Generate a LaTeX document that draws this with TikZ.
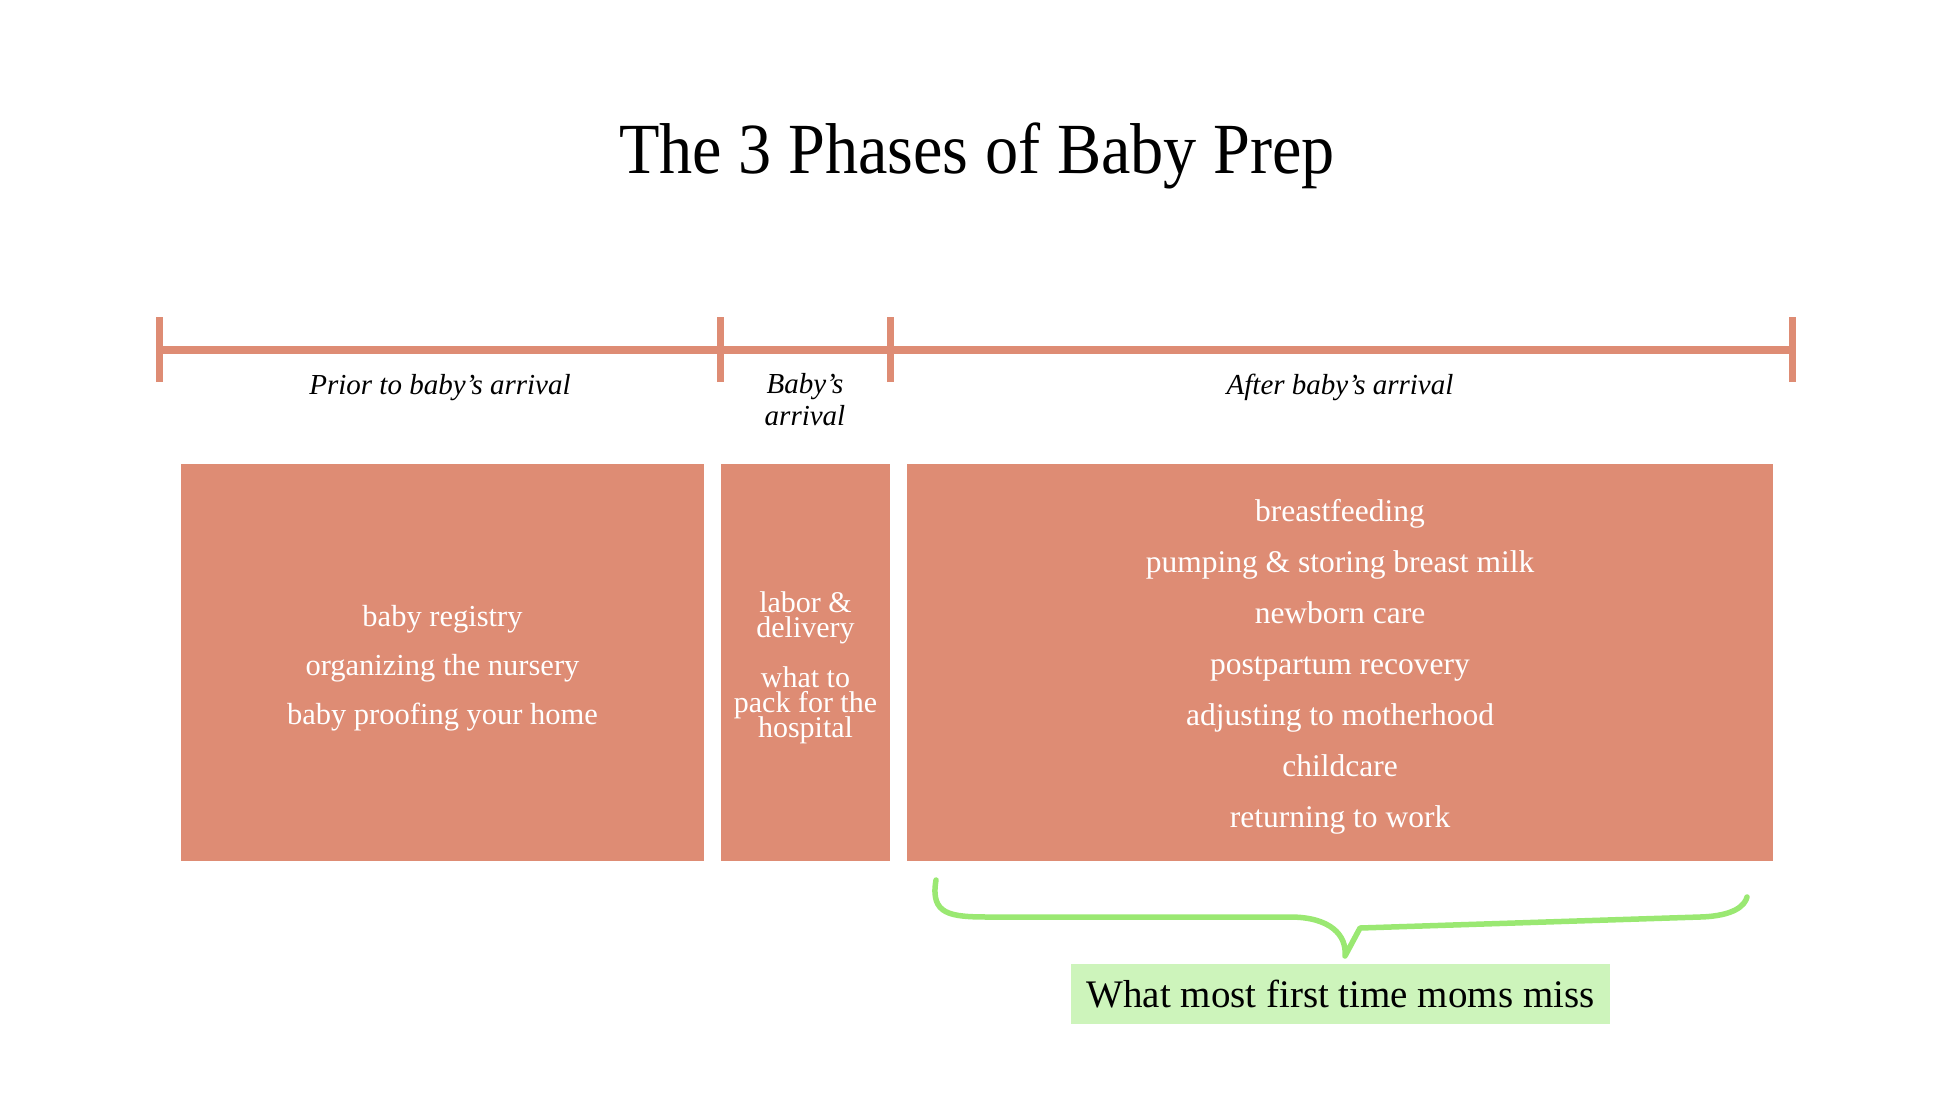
\documentclass[tikz,border=0pt]{standalone}
\usepackage{fontspec}
\newfontfamily\bodyfont{Liberation Serif}
\definecolor{salmon}{HTML}{DE8C74}
\definecolor{bracegreen}{HTML}{9AE872}
\definecolor{labelgreen}{HTML}{CDF4BB}
\tikzset{
  axisline/.style={draw=salmon, line width=7.5pt},
  tickline/.style={draw=salmon, line width=7pt},
  phaselabel/.style={anchor=base, inner sep=0pt, align=center, font=\bodyfont\itshape\fontsize{29}{31}\selectfont},
  phasebox/.style={fill=salmon, inner sep=0pt, minimum height=397pt},
  boxtext/.style={text=white, inner sep=0pt, align=center},
  bracestyle/.style={draw=bracegreen, line width=5.5pt, line cap=round, line join=round},
  missbox/.style={fill=labelgreen, text=black, inner sep=0pt, minimum width=539pt, minimum height=60pt, font=\bodyfont\fontsize{39}{41}\selectfont}
}
\lineskiplimit=-100pt
\begin{document}
\begin{tikzpicture}[x=1pt,y=-1pt]
\useasboundingbox (0,0) rectangle (1946,1096);
% title
\node[anchor=base, inner sep=0pt] (title) at (977,173) {\scalebox{0.92}[1]{\bodyfont\fontsize{72}{74}\selectfont The 3 Phases of Baby Prep}};
% timeline
\coordinate (t1) at (159,350);
\coordinate (t2) at (720,350);
\coordinate (t3) at (890,350);
\coordinate (t4) at (1792,350);
\draw[axisline] (t1) -- (t4);
\foreach \t in {t1,t2,t3,t4}{
  \draw[tickline] ([yshift=-32pt]\t) -- ([yshift=33pt]\t);
}
% phase labels
\node[phaselabel] (l1) at (440,394) {Prior to baby’s arrival};
\node[phaselabel] (l2) at (805,425) {Baby’s\\[1pt]arrival};
\node[phaselabel] (l3) at (1340,394) {After baby’s arrival};
% boxes
\node[phasebox, minimum width=523pt] (b1) at (442.5,662.5) {};
\node[phasebox, minimum width=169pt] (b2) at (805.5,662.5) {};
\node[phasebox, minimum width=866pt] (b3) at (1340,662.5) {};
\node[boxtext, font=\bodyfont\fontsize{30.5}{49}\selectfont] (b1t) at ([yshift=-6pt]b1.center)
  {baby registry\\organizing the nursery\\baby proofing your home};
\node[boxtext, font=\bodyfont\fontsize{30}{25}\selectfont] (b2t) at ([yshift=-5pt]b2.center)
  {labor \&\\delivery\\[25pt]what to\\pack for the\\hospital};
\node[boxtext, font=\bodyfont\fontsize{31.5}{51}\selectfont] (b3t) at ([yshift=-4pt]b3.center)
  {breastfeeding\\pumping \& storing breast milk\\newborn care\\postpartum recovery\\adjusting to motherhood\\childcare\\returning to work};
% brace
\coordinate (bs) at (936,880);
\coordinate (btip) at (1345,956);
\coordinate (be) at (1747,897);
\draw[bracestyle] (bs) .. controls (930,915) and (950,917) .. (990,917) -- (1290,917)
  .. controls (1330,917) and (1347,935) .. (btip) -- (1360,928) -- (1700,917)
  .. controls (1735,916) and (1745,905) .. (be);
% label
\node[missbox] (miss) at (1340.5,994) {What most first time moms miss};
\end{tikzpicture}
\end{document}
